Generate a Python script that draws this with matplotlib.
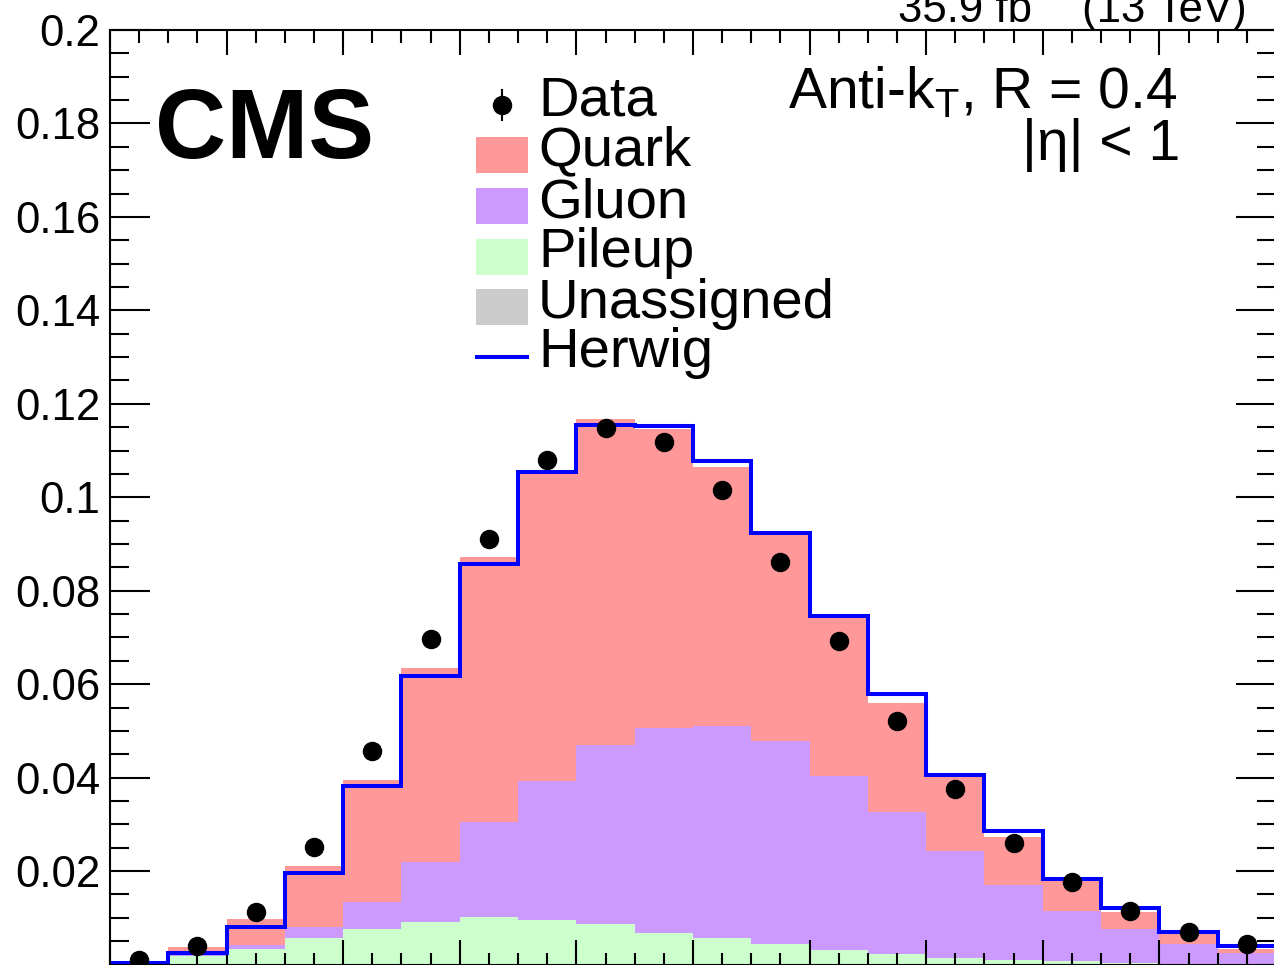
import matplotlib
matplotlib.use('Agg')
import matplotlib.pyplot as plt
from matplotlib.patches import Rectangle
from matplotlib.lines import Line2D
from matplotlib.ticker import MultipleLocator
import numpy as np

plt.rcParams['font.family'] = ['Liberation Sans', 'DejaVu Sans']
plt.rcParams['mathtext.fontset'] = 'custom'
plt.rcParams['mathtext.rm'] = 'Liberation Sans'
plt.rcParams['mathtext.it'] = 'Liberation Sans:italic'

# 20 bins on [0, 1]
bin_edges = np.linspace(0.0, 1.0, 21)

data = [0.0010, 0.0040, 0.0112, 0.0251, 0.0457, 0.0696, 0.0910, 0.1080, 0.1148, 0.1118,
        0.1015, 0.0861, 0.0692, 0.0521, 0.0375, 0.0260, 0.0177, 0.0114, 0.0070, 0.0044]
herwig = [0.0004, 0.0025, 0.0080, 0.0196, 0.0382, 0.0617, 0.0857, 0.1053, 0.1154, 0.1152,
          0.1077, 0.0923, 0.0745, 0.0579, 0.0405, 0.0286, 0.0183, 0.0121, 0.0070, 0.0040]
unassigned = [0.0001, 0.0002, 0.0002, 0.0002, 0.0002, 0.0002, 0.0002, 0.0002, 0.0002, 0.0002,
              0.0002, 0.0002, 0.0002, 0.0002, 0.0001, 0.0001, 0.0001, 0.0001, 0.0001, 0.0001]
pileup = [0.0001, 0.0016, 0.0031, 0.0055, 0.0074, 0.0089, 0.0100, 0.0093, 0.0085, 0.0065,
          0.0055, 0.0042, 0.0029, 0.0020, 0.0013, 0.0009, 0.0006, 0.0003, 0.0001, 0.0001]
gluon = [0.0001, 0.0002, 0.0009, 0.0023, 0.0058, 0.0128, 0.0203, 0.0298, 0.0383, 0.0439,
         0.0453, 0.0434, 0.0372, 0.0304, 0.0229, 0.0160, 0.0108, 0.0072, 0.0042, 0.0023]
quark = [0.0003, 0.0017, 0.0055, 0.0130, 0.0261, 0.0415, 0.0567, 0.0665, 0.0697, 0.0640,
         0.0555, 0.0442, 0.0340, 0.0234, 0.0158, 0.0103, 0.0064, 0.0036, 0.0023, 0.0008]

W, H = 1274, 965
fig = plt.figure(figsize=(W / 100, H / 100), dpi=100)
fig.set_facecolor('white')

# axes frame (pixels): x 110 -> 1276, y 30 -> 964.5
ax = fig.add_axes([110 / W, 0.5 / H, 1166 / W, 934.5 / H])

# stacked histogram: unassigned, pileup, gluon, quark
stack = [(unassigned, '#cccccc'), (pileup, '#ccffcc'), (gluon, '#cc99ff'), (quark, '#ff9999')]
base = np.zeros(20)
for vals, col in stack:
    top = base + np.array(vals)
    ax.stairs(top, bin_edges, baseline=base, fill=True, color=col, lw=0, zorder=1)
    base = top

ax.stairs(herwig, bin_edges, color='#0000ff', lw=2.9, zorder=3)

centers = 0.5 * (bin_edges[:-1] + bin_edges[1:])
ax.plot(centers, data, 'o', color='black', ms=13, zorder=4, clip_on=False)

ax.set_xlim(0, 1)
ax.set_ylim(0, 0.2)
ax.xaxis.set_major_locator(MultipleLocator(0.1))
ax.xaxis.set_minor_locator(MultipleLocator(0.025))
ax.yaxis.set_major_locator(MultipleLocator(0.02))
ax.yaxis.set_minor_locator(MultipleLocator(0.005))
ax.set_yticks([0.02, 0.04, 0.06, 0.08, 0.1, 0.12, 0.14, 0.16, 0.18, 0.2])
ax.set_yticklabels(['0.02', '0.04', '0.06', '0.08', '0.1', '0.12', '0.14', '0.16', '0.18', '0.2'])
ax.tick_params(axis='both', which='both', direction='in', top=True, right=True,
               width=1.5, colors='black', labelsize=31.5, zorder=5)
ax.tick_params(axis='y', which='major', length=29, pad=7)
ax.tick_params(axis='y', which='minor', length=14)
ax.tick_params(axis='x', which='major', length=18, labelbottom=False)
ax.tick_params(axis='x', which='minor', length=9)
for s in ax.spines.values():
    s.set_linewidth(1.5)
    s.set_zorder(5)


def fx(x):
    return x / W


def fy(y):
    return (H - y) / H


# texts
fig.text(fx(155), fy(158), 'CMS', fontsize=71, fontweight='bold', va='baseline', ha='left')
fig.text(fx(1177), fy(108), r'Anti-k$_{\mathrm{T}}$, R = 0.4', fontsize=41, va='baseline', ha='right')
fig.text(fx(1180), fy(160), '|η| < 1', fontsize=41, va='baseline', ha='right')
fig.text(fx(898), fy(22), '35.9 fb', fontsize=31.5, va='baseline', ha='left')
fig.text(fx(1036), fy(-2), '\u22121', fontsize=22, va='baseline', ha='left')
fig.text(fx(1247), fy(22), '(13 TeV)', fontsize=31.5, va='baseline', ha='right')

# legend drawn by hand
labels = ['Data', 'Quark', 'Gluon', 'Pileup', 'Unassigned', 'Herwig']
baselines = [115, 165, 217, 267, 318, 367]
for lab, yb in zip(labels, baselines):
    fig.text(fx(538), fy(yb), lab, fontsize=40.5, va='baseline', ha='left')

fig.add_artist(Line2D([fx(502), fx(502)], [fy(90), fy(120)], color='black', lw=1.5))
fig.add_artist(Line2D([fx(502)], [fy(105)], marker='o', color='black', ms=13))
for yc, col in zip([155, 206, 257, 307], ['#ff9999', '#cc99ff', '#ccffcc', '#cccccc']):
    fig.add_artist(Rectangle((fx(476), fy(yc + 18)), 52 / W, 36 / H, color=col, lw=0))
fig.add_artist(Line2D([fx(477), fx(527)], [fy(357), fy(357)], color='#0000ff', lw=2.9))

fig.savefig('out.png', dpi=100)
